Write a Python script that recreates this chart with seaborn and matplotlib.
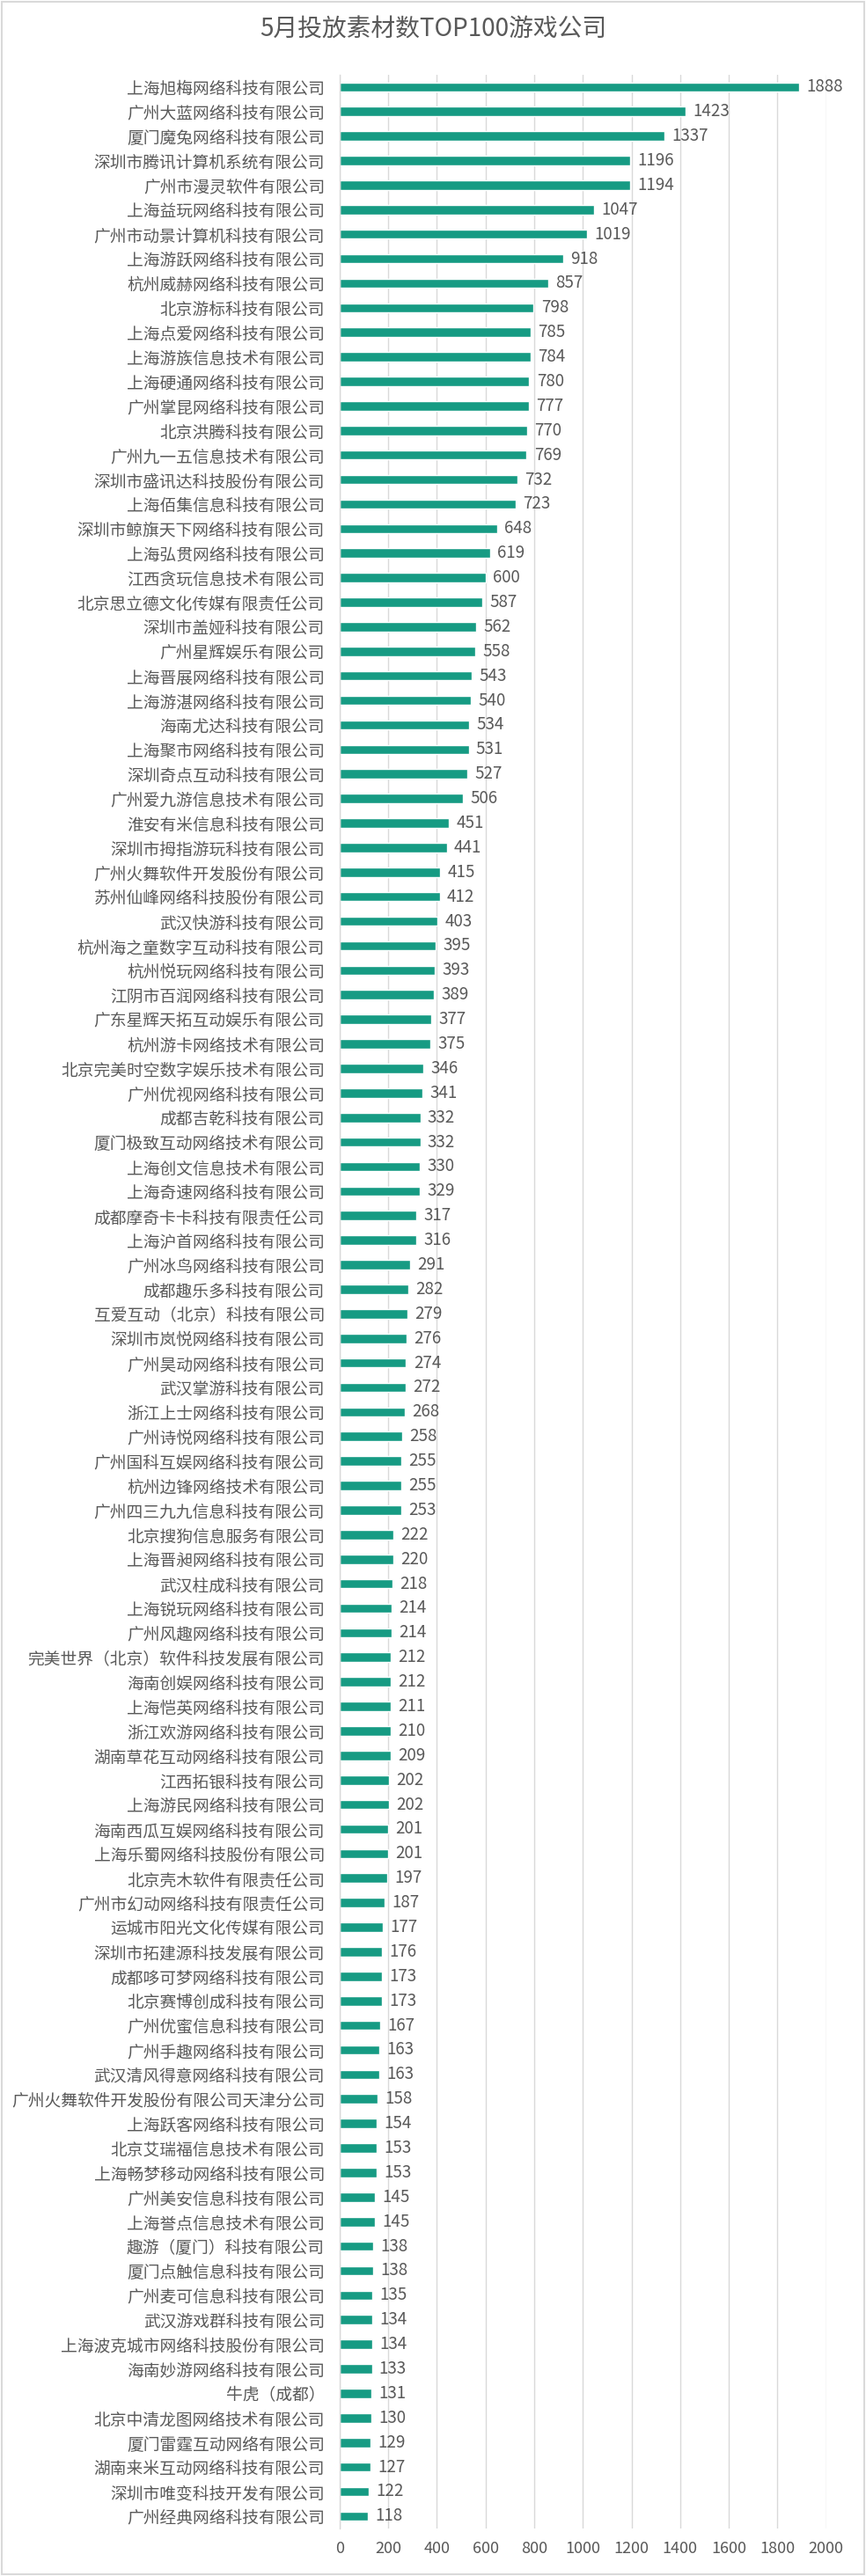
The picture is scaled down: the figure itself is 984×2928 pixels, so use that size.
import matplotlib
matplotlib.use("Agg")
import matplotlib.pyplot as plt
import seaborn as sns
import pandas as pd
from matplotlib.patches import Rectangle

companies = [
    "上海旭梅网络科技有限公司", "广州大蓝网络科技有限公司", "厦门魔兔网络科技有限公司",
    "深圳市腾讯计算机系统有限公司", "广州市漫灵软件有限公司", "上海益玩网络科技有限公司",
    "广州市动景计算机科技有限公司", "上海游跃网络科技有限公司", "杭州威赫网络科技有限公司",
    "北京游标科技有限公司", "上海点爱网络科技有限公司", "上海游族信息技术有限公司",
    "上海硬通网络科技有限公司", "广州掌昆网络科技有限公司", "北京洪腾科技有限公司",
    "广州九一五信息技术有限公司", "深圳市盛讯达科技股份有限公司", "上海佰集信息科技有限公司",
    "深圳市鲸旗天下网络科技有限公司", "上海弘贯网络科技有限公司", "江西贪玩信息技术有限公司",
    "北京思立德文化传媒有限责任公司", "深圳市盖娅科技有限公司", "广州星辉娱乐有限公司",
    "上海晋展网络科技有限公司", "上海游湛网络科技有限公司", "海南尤达科技有限公司",
    "上海聚市网络科技有限公司", "深圳奇点互动科技有限公司", "广州爱九游信息技术有限公司",
    "淮安有米信息科技有限公司", "深圳市拇指游玩科技有限公司", "广州火舞软件开发股份有限公司",
    "苏州仙峰网络科技股份有限公司", "武汉快游科技有限公司", "杭州海之童数字互动科技有限公司",
    "杭州悦玩网络科技有限公司", "江阴市百润网络科技有限公司", "广东星辉天拓互动娱乐有限公司",
    "杭州游卡网络技术有限公司", "北京完美时空数字娱乐技术有限公司", "广州优视网络科技有限公司",
    "成都吉乾科技有限公司", "厦门极致互动网络技术有限公司", "上海创文信息技术有限公司",
    "上海奇速网络科技有限公司", "成都摩奇卡卡科技有限责任公司", "上海沪首网络科技有限公司",
    "广州冰鸟网络科技有限公司", "成都趣乐多科技有限公司", "互爱互动（北京）科技有限公司",
    "深圳市岚悦网络科技有限公司", "广州昊动网络科技有限公司", "武汉掌游科技有限公司",
    "浙江上士网络科技有限公司", "广州诗悦网络科技有限公司", "广州国科互娱网络科技有限公司",
    "杭州边锋网络技术有限公司", "广州四三九九信息科技有限公司", "北京搜狗信息服务有限公司",
    "上海晋昶网络科技有限公司", "武汉柱成科技有限公司", "上海锐玩网络科技有限公司",
    "广州风趣网络科技有限公司", "完美世界（北京）软件科技发展有限公司", "海南创娱网络科技有限公司",
    "上海恺英网络科技有限公司", "浙江欢游网络科技有限公司", "湖南草花互动网络科技有限公司",
    "江西拓银科技有限公司", "上海游民网络科技有限公司", "海南西瓜互娱网络科技有限公司",
    "上海乐蜀网络科技股份有限公司", "北京壳木软件有限责任公司", "广州市幻动网络科技有限责任公司",
    "运城市阳光文化传媒有限公司", "深圳市拓建源科技发展有限公司", "成都哆可梦网络科技有限公司",
    "北京赛博创成科技有限公司", "广州优蜜信息科技有限公司", "广州手趣网络科技有限公司",
    "武汉清风得意网络科技有限公司", "广州火舞软件开发股份有限公司天津分公司", "上海跃客网络科技有限公司",
    "北京艾瑞福信息技术有限公司", "上海畅梦移动网络科技有限公司", "广州美安信息科技有限公司",
    "上海誉点信息技术有限公司", "趣游（厦门）科技有限公司", "厦门点触信息科技有限公司",
    "广州麦可信息科技有限公司", "武汉游戏群科技有限公司", "上海波克城市网络科技股份有限公司",
    "海南妙游网络科技有限公司", "牛虎（成都）", "北京中清龙图网络技术有限公司",
    "厦门雷霆互动网络有限公司", "湖南来米互动网络科技有限公司", "深圳市唯变科技开发有限公司",
    "广州经典网络科技有限公司",
]

counts = [
    1888, 1423, 1337, 1196, 1194, 1047, 1019, 918, 857, 798,
    785, 784, 780, 777, 770, 769, 732, 723, 648, 619,
    600, 587, 562, 558, 543, 540, 534, 531, 527, 506,
    451, 441, 415, 412, 403, 395, 393, 389, 377, 375,
    346, 341, 332, 332, 330, 329, 317, 316, 291, 282,
    279, 276, 274, 272, 268, 258, 255, 255, 253, 222,
    220, 218, 214, 214, 212, 212, 211, 210, 209, 202,
    202, 201, 201, 197, 187, 177, 176, 173, 173, 167,
    163, 163, 158, 154, 153, 153, 145, 145, 138, 138,
    135, 134, 134, 133, 131, 130, 129, 127, 122, 118,
]

x_ticks = [0, 200, 400, 600, 800, 1000, 1200, 1400, 1600, 1800, 2000]
title = "5月投放素材数TOP100游戏公司"

sns.set_theme(style="white")
plt.rcParams['font.family'] = ['Noto Sans CJK SC', 'DejaVu Sans']

TEXT = "#595959"
BAR = "#169B83"

df = pd.DataFrame({"company": companies, "count": counts})

fig = plt.figure(figsize=(9.84, 29.28), dpi=100)
ax = fig.add_axes([0.392, 0.0185, 0.562, 0.9525])

sns.barplot(data=df, y="company", x="count", order=companies, color=BAR,
            width=0.38, orient="h", ax=ax, saturation=1)

ax.set_xlim(0, 2000)
ax.set_xticks(x_ticks)
ax.set_ylim(len(companies) - 0.5, -0.5)
ax.set_xlabel("")
ax.set_ylabel("")
ax.grid(axis="x", color="#d9d9d9", linewidth=1)
ax.set_axisbelow(True)
for s in ["top", "right", "bottom"]:
    ax.spines[s].set_visible(False)
ax.spines["left"].set_color("#d9d9d9")
ax.spines["left"].set_linewidth(1)
ax.tick_params(axis="y", length=0, pad=12, labelsize=13.5, labelcolor=TEXT)
ax.tick_params(axis="x", length=0, pad=10, labelsize=13, labelcolor=TEXT)

for c in ax.containers:
    ax.bar_label(c, labels=[str(v) for v in counts], padding=6,
                 fontsize=13.5, color=TEXT)

fig.text(0.5, 1 - 34 / 2928, title, ha="center", va="center",
         fontsize=20, color=TEXT)

fig.patches.append(Rectangle((0.002, 0.0007), 0.996, 0.9986, transform=fig.transFigure,
                             fill=False, edgecolor="#d9d9d9", linewidth=1.5))

fig.savefig("out.png", dpi=100, facecolor="white")
